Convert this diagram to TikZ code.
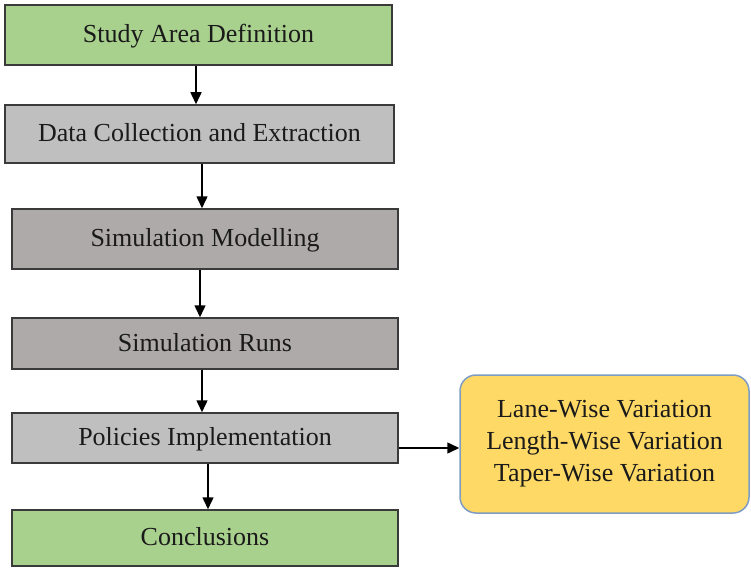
\documentclass[tikz,border=0pt]{standalone}
\usepackage{fontspec}
\setmainfont{Liberation Serif}
\usetikzlibrary{arrows.meta}
\definecolor{boxgreen}{HTML}{A9D18E}
\definecolor{boxlight}{HTML}{BFBFBF}
\definecolor{boxdark}{HTML}{AEAAAA}
\definecolor{boxyellow}{HTML}{FFD966}
\definecolor{edgedark}{HTML}{3A3A3A}
\definecolor{edgeblue}{HTML}{7F9DC2}
\definecolor{txt}{HTML}{1A1A1A}
\tikzset{
  stepbox/.style={draw=edgedark, line width=1.5pt, rectangle, minimum width=386pt,
    text=txt, font=\fontsize{26}{32}\selectfont, inner sep=0pt, text depth=3pt},
  varbox/.style={draw=edgeblue, line width=1.5pt, rectangle, rounded corners=16pt,
    fill=boxyellow, text=txt, font=\fontsize{26}{32}\selectfont, align=center,
    minimum width=289pt, minimum height=138pt, inner sep=0pt},
  arr/.style={draw=black, line width=1.5pt, -{Triangle[width=11pt,length=12pt]}}
}
\begin{document}
\begin{tikzpicture}[x=1pt,y=-1pt]
\useasboundingbox (0,0) rectangle (751,567);
\fill[white] (0,0) rectangle (751,567);
\node[stepbox, fill=boxgreen, minimum width=387pt, minimum height=60pt] (b1) at (198.5,35) {Study Area Definition};
\node[stepbox, fill=boxlight, minimum width=389pt, minimum height=58pt] (b2) at (199.5,134) {Data Collection and Extraction};
\node[stepbox, fill=boxdark, minimum height=60pt] (b3) at (205,239) {Simulation Modelling};
\node[stepbox, fill=boxdark, minimum height=51pt] (b4) at (205,343.5) {Simulation Runs};
\node[stepbox, fill=boxlight, minimum height=50pt] (b5) at (205,438) {Policies Implementation};
\node[stepbox, fill=boxgreen, minimum height=56pt] (b6) at (205,538) {Conclusions};
\node[varbox] (v) at (604.5,444) {Lane-Wise Variation\\Length-Wise Variation\\Taper-Wise Variation};
\draw[arr] ([xshift=-2.5pt]b1.south) -- ([xshift=-2.5pt]b1.south |- b2.north);
\draw[arr] ([xshift=2.5pt]b2.south) -- ([xshift=2.5pt]b2.south |- b3.north);
\draw[arr] ([xshift=-5pt]b3.south) -- ([xshift=-5pt]b3.south |- b4.north);
\draw[arr] ([xshift=-3pt]b4.south) -- ([xshift=-3pt]b4.south |- b5.north);
\draw[arr] ([xshift=3pt]b5.south) -- ([xshift=3pt]b5.south |- b6.north);
\draw[arr] ([yshift=-10pt]b5.east) -- ([yshift=-10pt]b5.east -| v.west);
\end{tikzpicture}
\end{document}
